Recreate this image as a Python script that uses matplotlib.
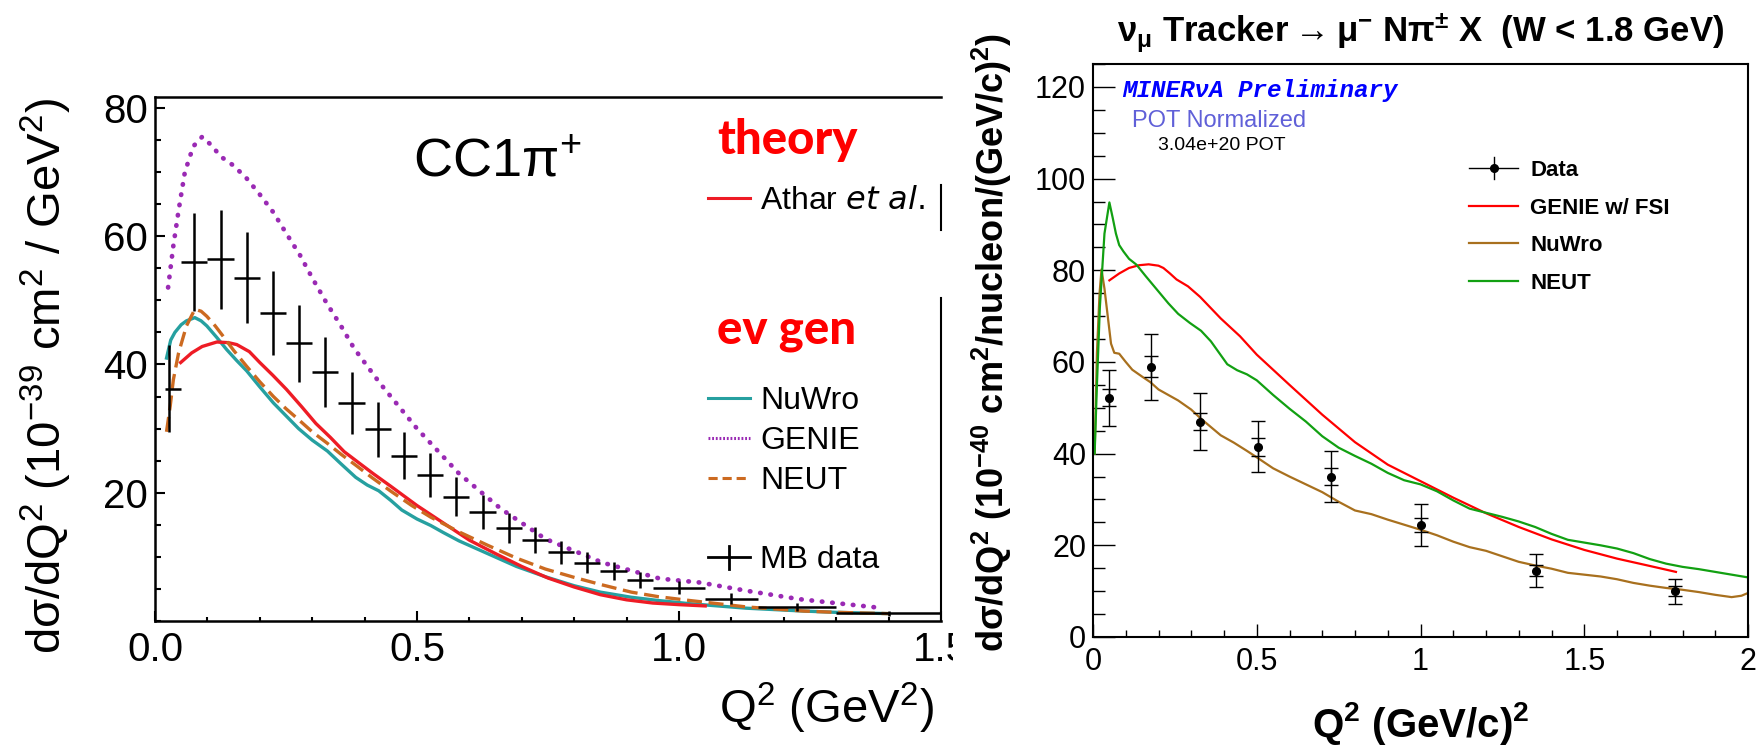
import matplotlib
matplotlib.use("Agg")
import matplotlib.pyplot as plt
from matplotlib.lines import Line2D
from matplotlib.ticker import MultipleLocator, FuncFormatter

plt.rcParams["font.family"] = ["Liberation Sans", "DejaVu Sans"]
plt.rcParams["mathtext.default"] = "regular"

# ---------------- Daten linkes Bild (MiniBooNE CC1pi+) ----------------
mb_q2 = [0.027, 0.075, 0.125, 0.175, 0.225, 0.275, 0.325, 0.375, 0.425, 0.475, 0.525, 0.575,
         0.625, 0.675, 0.725, 0.775, 0.825, 0.875, 0.925, 1.0, 1.1, 1.225, 1.4]
mb_lo = [0.02, 0.05, 0.1, 0.15, 0.2, 0.25, 0.3, 0.35, 0.4, 0.45, 0.5, 0.55,
         0.6, 0.65, 0.7, 0.75, 0.8, 0.85, 0.9, 0.95, 1.05, 1.15, 1.3]
mb_hi = [0.05, 0.1, 0.15, 0.2, 0.25, 0.3, 0.35, 0.4, 0.45, 0.5, 0.55, 0.6,
         0.65, 0.7, 0.75, 0.8, 0.85, 0.9, 0.95, 1.05, 1.15, 1.3, 1.5]
mb_xs = [36.2, 56.0, 56.4, 53.5, 48.0, 43.3, 38.8, 34.0, 29.9, 25.8, 22.8, 19.4,
         17.0, 14.5, 12.6, 10.7, 9.1, 7.8, 6.4, 5.2, 3.5, 2.2, 1.2]
mb_err = [6.8, 7.6, 7.7, 7.1, 6.5, 6.0, 5.5, 4.8, 4.3, 3.7, 3.4, 3.0,
          2.7, 2.3, 2.0, 1.8, 1.6, 1.4, 1.2, 1.0, 0.8, 0.6, 0.4]

athar_q2 = [0.049, 0.07, 0.09, 0.118, 0.14, 0.156, 0.18, 0.2, 0.225, 0.251, 0.28, 0.307,
            0.335, 0.361, 0.39, 0.416, 0.45, 0.5, 0.55, 0.6, 0.65, 0.7, 0.75, 0.8,
            0.85, 0.9, 0.95, 1.0, 1.05]
athar_xs = [40.3, 41.8, 42.8, 43.5, 43.4, 43.1, 42.0, 40.3, 38.3, 36.1, 33.4, 30.8,
            28.6, 26.4, 24.6, 23.0, 21.0, 18.0, 15.3, 12.6, 10.5, 8.5, 6.7, 5.3,
            4.1, 3.3, 2.8, 2.55, 2.35]

nuwro_q2 = [0.022, 0.03, 0.038, 0.05, 0.06, 0.076, 0.088, 0.099, 0.118, 0.137, 0.156, 0.175,
            0.2, 0.226, 0.25, 0.274, 0.3, 0.329, 0.355, 0.383, 0.405, 0.427, 0.45, 0.471,
            0.5, 0.526, 0.55, 0.58, 0.635, 0.69, 0.745, 0.8, 0.85, 0.909, 0.96, 1.02,
            1.128, 1.238, 1.3, 1.4]
nuwro_xs = [41.0, 43.8, 45.0, 46.2, 46.8, 47.3, 46.8, 46.0, 44.2, 42.3, 40.6, 39.0,
            36.5, 34.0, 32.0, 30.0, 28.2, 26.5, 24.5, 22.4, 21.2, 20.3, 18.8, 17.3,
            15.9, 14.9, 13.8, 12.5, 10.5, 8.5, 6.9, 5.5, 4.5, 3.7, 3.2, 2.7,
            2.0, 1.55, 1.35, 1.15]

genie_q2 = [0.025, 0.035, 0.045, 0.057, 0.073, 0.09, 0.11, 0.124, 0.15, 0.175, 0.2, 0.226,
            0.25, 0.277, 0.3, 0.328, 0.355, 0.38, 0.43, 0.5, 0.58, 0.66, 0.745, 0.854,
            0.964, 1.04, 1.13, 1.23, 1.39]
genie_xs = [52.0, 58.5, 64.0, 70.0, 74.0, 75.5, 74.0, 72.5, 71.0, 69.0, 66.5, 63.7,
            60.5, 57.0, 53.5, 49.5, 46.0, 42.5, 37.0, 30.0, 23.0, 17.5, 12.8, 9.1,
            6.6, 6.0, 4.7, 3.4, 2.0]

neut_q2 = [0.022, 0.029, 0.035, 0.045, 0.06, 0.076, 0.088, 0.099, 0.115, 0.13, 0.15, 0.175,
           0.2, 0.226, 0.25, 0.274, 0.3, 0.329, 0.355, 0.383, 0.415, 0.449, 0.49, 0.526,
           0.58, 0.635, 0.69, 0.745, 0.8, 0.85, 0.909, 0.96, 1.02, 1.128, 1.238, 1.3, 1.4]
neut_xs = [29.5, 33.5, 37.6, 41.8, 46.0, 48.6, 48.3, 47.5, 46.0, 44.4, 42.2, 39.7,
           37.3, 35.0, 33.1, 31.4, 29.5, 27.7, 26.0, 24.3, 22.3, 20.3, 18.0, 16.2,
           13.9, 11.8, 9.8, 8.1, 6.8, 5.7, 4.5, 3.8, 3.2, 2.2, 1.55, 1.35, 1.15]

# ---------------- Daten rechtes Bild (MINERvA) ----------------
mnv_q2 = [0.05, 0.177, 0.328, 0.503, 0.726, 1.0, 1.353, 1.778]
mnv_xs = [52.2, 59.0, 47.0, 41.5, 35.0, 24.5, 14.5, 10.0]
mnv_tot = [6.1, 7.2, 6.2, 5.6, 5.6, 4.6, 3.6, 2.7]
mnv_stat = [1.8, 2.3, 1.9, 2.0, 1.9, 1.5, 1.2, 1.1]

gfsi_q2 = [0.05, 0.08, 0.11, 0.14, 0.17, 0.2, 0.215, 0.235, 0.255, 0.29, 0.327, 0.39,
           0.449, 0.5, 0.6, 0.7, 0.8, 0.9, 1.0, 1.1, 1.2, 1.3, 1.4, 1.5, 1.6, 1.7, 1.78]
gfsi_xs = [77.8, 79.3, 80.5, 81.1, 81.3, 81.0, 80.5, 79.3, 78.0, 76.5, 74.2, 69.5,
           65.6, 61.6, 55.0, 48.5, 42.5, 37.6, 34.0, 30.4, 27.0, 24.0, 21.3, 19.0, 17.1, 15.5, 14.2]

mneut_q2 = [0.005, 0.012, 0.021, 0.035, 0.05, 0.06, 0.07, 0.08, 0.093, 0.11, 0.133, 0.16,
            0.195, 0.23, 0.26, 0.296, 0.33, 0.36, 0.39, 0.41, 0.44, 0.47, 0.5, 0.55,
            0.6, 0.65, 0.7, 0.75, 0.8, 0.85, 0.9, 0.95, 1.0, 1.05, 1.1, 1.15, 1.2, 1.25,
            1.3, 1.35, 1.4, 1.45, 1.5, 1.55, 1.6, 1.65, 1.7, 1.75, 1.8, 1.85, 1.9, 1.95, 2.0]
mneut_xs = [40.0, 55.0, 72.0, 88.0, 94.8, 91.5, 88.0, 85.5, 84.1, 82.5, 81.2, 78.8,
            75.8, 72.8, 70.5, 68.5, 66.8, 64.5, 61.5, 59.5, 58.2, 57.3, 56.0, 52.8,
            49.8, 47.0, 43.8, 41.3, 39.5, 37.8, 35.8, 34.2, 33.3, 31.8, 29.8, 28.0, 27.1, 26.2,
            25.2, 24.0, 22.5, 21.2, 20.6, 20.0, 19.3, 18.3, 17.0, 16.0, 15.3, 14.8, 14.2, 13.6, 13.0]

mnuwro_q2 = [0.005, 0.012, 0.02, 0.026, 0.035, 0.045, 0.055, 0.065, 0.08, 0.1, 0.12, 0.15,
             0.175, 0.2, 0.23, 0.26, 0.3, 0.33, 0.36, 0.39, 0.43, 0.47, 0.5, 0.55,
             0.6, 0.65, 0.7, 0.75, 0.8, 0.85, 0.9, 0.95, 1.0, 1.05, 1.1, 1.15, 1.2, 1.25,
             1.3, 1.35, 1.4, 1.45, 1.5, 1.55, 1.6, 1.65, 1.7, 1.75, 1.8, 1.85, 1.9, 1.95, 1.98, 2.0]
mnuwro_xs = [40.0, 62.0, 75.0, 80.2, 76.0, 70.0, 64.0, 62.0, 61.8, 60.0, 58.3, 56.8,
             55.6, 54.0, 52.8, 51.6, 49.6, 47.6, 45.8, 44.0, 42.4, 40.6, 39.2, 36.8,
             35.0, 33.3, 31.6, 29.5, 27.6, 26.8, 25.6, 24.5, 23.4, 22.2, 20.8, 19.6, 18.8, 17.6,
             16.4, 15.6, 14.9, 14.0, 13.6, 13.2, 12.6, 11.8, 11.2, 10.7, 10.3, 9.8, 9.2, 8.7, 9.0, 9.6]

# Farben
c_athar = "#ee1c25"
c_teal = "#26a0a0"
c_purple = "#9a2ab4"
c_orange = "#cc6a20"
c_red = "#ff0000"
c_brown = "#a8701e"
c_green = "#12a012"

W, H = 1761, 745
fig = plt.figure(figsize=(W / 100, H / 100), dpi=100)


def fx(px):
    return px / W


def fy(py):
    return 1 - py / H


def key(x0, x1, y, **kw):
    fig.add_artist(Line2D([fx(x0), fx(x1)], [fy(y), fy(y)], transform=fig.transFigure, **kw))


# ================= linkes Bild =================
ax1 = fig.add_axes([fx(155), fy(621), (941 - 155) / W, (621 - 97) / H])
ax1.set_xlim(0, 1.5)
ax1.set_ylim(0, 81.7)

ax1.plot(genie_q2, genie_xs, color=c_purple, lw=3.4, linestyle=(0, (0.1, 2.1)),
         dash_capstyle="round")
ax1.plot(nuwro_q2, nuwro_xs, color=c_teal, lw=2.4)
ax1.plot(athar_q2, athar_xs, color=c_athar, lw=2.4)
ax1.plot(neut_q2, neut_xs, color=c_orange, lw=2.4, linestyle=(0, (4.5, 2.0)))

xerr_lo = [c - l for c, l in zip(mb_q2, mb_lo)]
xerr_hi = [h - c for c, h in zip(mb_q2, mb_hi)]
ax1.errorbar(mb_q2, mb_xs, xerr=[xerr_lo, xerr_hi], yerr=mb_err, fmt="none",
             ecolor="black", elinewidth=1.8, capsize=0, zorder=5)

ax1.xaxis.set_major_locator(MultipleLocator(0.5))
ax1.xaxis.set_minor_locator(MultipleLocator(0.1))
ax1.xaxis.set_major_formatter(FuncFormatter(lambda v, p: f"{v:.1f}"))
ax1.set_yticks([20, 40, 60, 80])
ax1.yaxis.set_minor_locator(MultipleLocator(5))
ax1.tick_params(which="both", direction="in", labelsize=29, width=1.5)
ax1.tick_params(axis="x", which="major", length=7, pad=7)
ax1.tick_params(axis="x", which="minor", length=3)
ax1.tick_params(axis="y", which="major", length=7, pad=5)
ax1.tick_params(axis="y", which="minor", length=4.3)
ax1.tick_params(top=False, right=False, which="both")
for s in ax1.spines.values():
    s.set_linewidth(1.8)
ax1.spines["right"].set_visible(False)
# rechter Rahmen nur teilweise sichtbar
ax1.axvline(1.5, ymin=(621 - 230) / 524, ymax=(621 - 185) / 524, color="black", lw=1.5, clip_on=False)
ax1.axvline(1.5, ymin=0, ymax=(621 - 298) / 524, color="black", lw=1.5, clip_on=False)

fig.text(fx(413), fy(176), "CC1π$^{+}$", fontsize=39, va="baseline")
fig.text(fx(46), fy(376), "dσ/dQ$^{2}$ (10$^{-39}$ cm$^{2}$ / GeV$^{2}$)", fontsize=34,
         rotation=90, ha="center", va="center")
fig.text(fx(934), fy(708), "Q$^{2}$ (GeV$^{2}$)", fontsize=34, ha="right", va="center")

# Legende links
fig.text(fx(717), fy(154), "theory", fontsize=34, color="#ff0000", fontweight="black",
         family=["Lato", "DejaVu Sans"], va="baseline")
fig.text(fx(717), fy(344), "ev gen", fontsize=34, color="#ff0000", fontweight="black",
         family=["Lato", "DejaVu Sans"], va="baseline")
key(708, 750, 198, color=c_athar, lw=2.2)
fig.text(fx(760), fy(209), "Athar $\\mathit{et\\ al.}$", fontsize=23, va="baseline")
key(708, 750, 398, color=c_teal, lw=2.2)
fig.text(fx(760), fy(409), "NuWro", fontsize=23, va="baseline")
key(708, 750, 438, color=c_purple, lw=2.2, linestyle=(0, (0.6, 0.6)))
fig.text(fx(760), fy(449), "GENIE", fontsize=23, va="baseline")
key(708, 750, 478, color=c_orange, lw=2.2, linestyle=(0, (3.0, 1.6)))
fig.text(fx(760), fy(489), "NEUT", fontsize=23, va="baseline")
key(708, 750, 557, color="black", lw=2.0)
fig.add_artist(Line2D([fx(729), fx(729)], [fy(546), fy(569)], transform=fig.transFigure,
                      color="black", lw=2.0))
fig.text(fx(760), fy(568), "MB data", fontsize=23, va="baseline")

# weisse Flaeche des rechten Bildes ueber dem linken
cov = fig.add_axes([fx(953), 0, 1 - fx(953), 1])
cov.set_facecolor("white")
cov.set_xticks([])
cov.set_yticks([])
for s in cov.spines.values():
    s.set_visible(False)

# ================= rechtes Bild =================
ax2 = fig.add_axes([fx(1093), fy(637), (1748 - 1093) / W, (637 - 64) / H])
ax2.set_xlim(0, 2)
ax2.set_ylim(0, 125)

ax2.plot(gfsi_q2, gfsi_xs, color=c_red, lw=1.6)
ax2.plot(mnuwro_q2, mnuwro_xs, color=c_brown, lw=1.6)
ax2.plot(mneut_q2, mneut_xs, color=c_green, lw=1.6)
ax2.errorbar(mnv_q2, mnv_xs, yerr=mnv_tot, fmt="o", color="black", ms=5.5,
             elinewidth=1.0, capsize=5, capthick=1.0, zorder=5)
ax2.errorbar(mnv_q2, mnv_xs, yerr=mnv_stat, fmt="none", ecolor="black",
             elinewidth=1.0, capsize=5, capthick=1.0, zorder=5)

ax2.xaxis.set_major_locator(MultipleLocator(0.5))
ax2.xaxis.set_minor_locator(MultipleLocator(0.1))
ax2.xaxis.set_major_formatter(FuncFormatter(lambda v, p: f"{v:g}"))
ax2.yaxis.set_major_locator(MultipleLocator(20))
ax2.yaxis.set_minor_locator(MultipleLocator(5))
ax2.tick_params(which="both", direction="in", labelsize=22, width=1.0, top=False, right=False)
ax2.tick_params(axis="y", which="major", length=16, pad=5)
ax2.tick_params(axis="y", which="minor", length=8.4)
ax2.tick_params(axis="x", which="major", length=9.4, pad=7)
ax2.tick_params(axis="x", which="minor", length=5)
for s in ax2.spines.values():
    s.set_linewidth(1.5)

fig.text(fx(1421), fy(42), "ν$_{μ}$ Tracker$\\rightarrow$μ$^{-}$ Nπ$^{\\pm}$ X  (W < 1.8 GeV)",
         fontsize=25, fontweight="bold", ha="center", va="baseline",
         family=["Liberation Sans", "DejaVu Sans"])
fig.text(fx(992), fy(342), "dσ/dQ$^{2}$ (10$^{-40}$ cm$^{2}$/nucleon/(GeV/c)$^{2}$)", fontsize=26,
         fontweight="bold", rotation=90, ha="center", va="center")
fig.text(fx(1421), fy(737), "Q$^{2}$ (GeV/c)$^{2}$", fontsize=29, fontweight="bold",
         ha="center", va="baseline")

fig.text(fx(1122), fy(97), "MINERνA Preliminary", fontsize=17.5, color="#0000ff",
         fontweight="bold", style="italic", family=["Liberation Mono", "DejaVu Sans Mono"],
         va="baseline")
fig.text(fx(1132), fy(127), "POT Normalized", fontsize=17, color="#6060d8", va="baseline")
fig.text(fx(1158), fy(150), "3.04e+20 POT", fontsize=14, color="black", va="baseline")

# Legende rechts
key(1469, 1518, 168, color="black", lw=1.0)
fig.add_artist(Line2D([fx(1494), fx(1494)], [fy(157), fy(179)], transform=fig.transFigure,
                      color="black", lw=1.0))
fig.add_artist(Line2D([fx(1494)], [fy(168)], transform=fig.transFigure, color="black",
                      marker="o", ms=5.5))
fig.text(fx(1530), fy(176), "Data", fontsize=16, fontweight="bold", va="baseline")
key(1469, 1518, 206, color=c_red, lw=1.6)
fig.text(fx(1530), fy(214), "GENIE w/ FSI", fontsize=16, fontweight="bold", va="baseline")
key(1469, 1518, 243, color=c_brown, lw=1.6)
fig.text(fx(1530), fy(251), "NuWro", fontsize=16, fontweight="bold", va="baseline")
key(1469, 1518, 281, color=c_green, lw=1.6)
fig.text(fx(1530), fy(289), "NEUT", fontsize=16, fontweight="bold", va="baseline")

fig.savefig("out.png", dpi=100)
